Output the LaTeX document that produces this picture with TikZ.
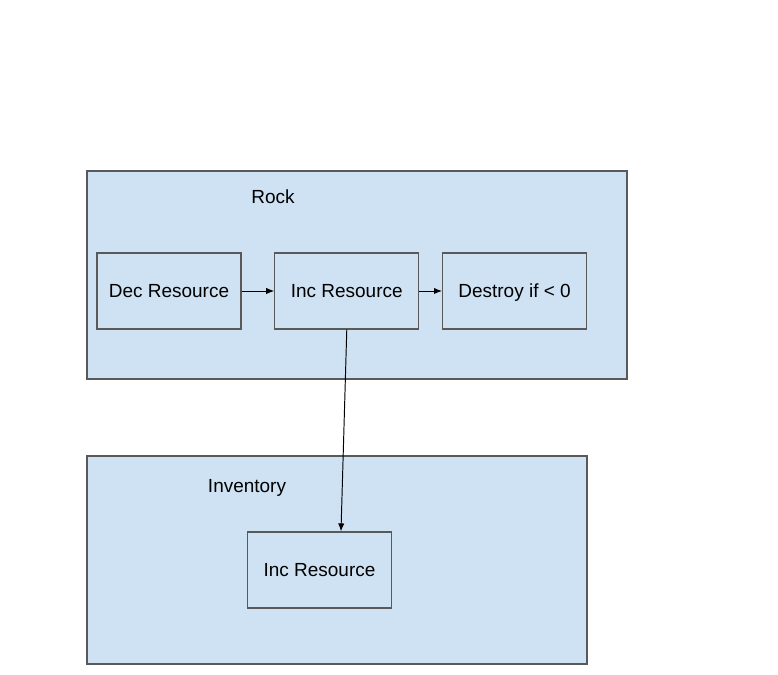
\documentclass[tikz,border=0pt]{standalone}
\usepackage{fontspec}
\setmainfont{Liberation Sans}
\usetikzlibrary{arrows.meta,positioning}
\definecolor{paleblue}{HTML}{CFE2F3}
\definecolor{edgegray}{HTML}{595959}
\tikzset{
  >=Stealth,
  every node/.append style={font=\fontsize{10.8}{13}\selectfont},
}
\tikzset{
  group/.style={draw=edgegray, fill=paleblue, line width=0.75pt, inner sep=0pt},
  block/.style={draw=edgegray, fill=paleblue, line width=0.75pt, text depth=0pt,
                minimum width=28.8mm, minimum height=15.2mm, align=center},
  arrow/.style={-{Latex[length=4.5pt,width=3.6pt]}, line width=0.55pt, black}
}

\begin{document}
\begin{tikzpicture}[x=0.02cm, y=-0.02cm]
\useasboundingbox (0,0) rectangle (778,675);

% ============= Rock =============
\node[group, minimum width=108mm, minimum height=41.6mm] (rock) at (357,275) {};
\node (rocklbl) at (273,197) {Rock};
\node[block] (dec) at (169,291) {Dec Resource};
\node[block, right=6.5mm of dec] (incrock) {Inc Resource};
\node[block, right=4.5mm of incrock] (destroy) {Destroy if < 0};

\draw[arrow] (dec) -- (incrock);
\draw[arrow] (incrock) -- (destroy);

% ============= Inventory =============
\node[group, minimum width=100mm, minimum height=41.6mm] (inventory) at (337,560) {};
\node (invlbl) at (247,488) {Inventory};
\node[block] (incinv) at (319.5,570) {Inc Resource};

% Rock -> Inventory
\draw[arrow] (incrock.south) -- ([xshift=4.3mm]incinv.north);

\end{tikzpicture}
\end{document}
